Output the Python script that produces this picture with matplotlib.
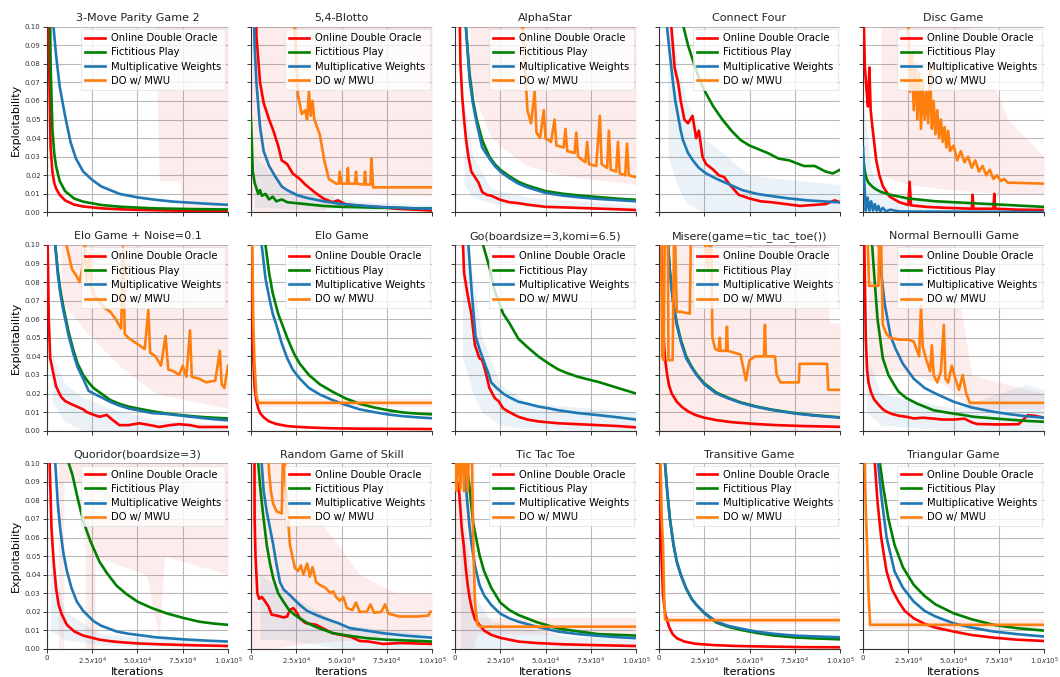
import matplotlib
matplotlib.use("Agg")
import matplotlib.pyplot as plt

# Exploitability values are written in units of 1e-2, iterations in units of 1e3.
# Each curve is a list of (iterations/1000, exploitability*100) points.
Y_UNIT = 0.01
X_UNIT = 1000

# ---------------- 3-Move Parity Game 2 ----------------
P01_ODO = [(0, 30), (0.9, 10), (1, 9), (2, 3.5), (3, 2.2), (4, 1.6), (5, 1.3), (7, 0.95), (10, 0.65),
           (15, 0.42), (20, 0.32), (30, 0.22), (40, 0.17), (50, 0.14), (60, 0.12), (70, 0.1), (80, 0.09),
           (90, 0.08), (100, 0.07)]
P01_FP = [(0, 30), (1.2, 30), (1.8, 10), (2, 8), (3, 4.5), (4, 3.2), (5, 2.5), (7, 1.7), (10, 1.15),
          (15, 0.75), (20, 0.58), (30, 0.4), (40, 0.31), (50, 0.26), (60, 0.22), (70, 0.2), (80, 0.18),
          (90, 0.17), (100, 0.16)]
P01_MW = [(0, 30), (3, 30), (3.6, 10), (5, 8.5), (7, 6.8), (10, 5.2), (13, 3.8), (16, 2.9), (20, 2.2),
          (25, 1.75), (30, 1.4), (40, 1.0), (50, 0.81), (60, 0.68), (70, 0.58), (80, 0.52), (90, 0.46),
          (100, 0.41)]
P01_DOMWU = []
P01_PINK = [(60, 10, 12), (62, 1.7, 12), (73.5, 1.7, 12), (74.5, 0.25, 12), (100, 0.25, 12)]
P01_BLUE = []

# ---------------- 5,4-Blotto ----------------
P02_ODO = [(0, 30), (2, 30), (3, 9.5), (5, 7), (7, 5.9), (10, 5.0), (12, 4.5), (15, 3.6), (17, 2.8),
           (20, 2.6), (23, 2.1), (27, 1.8), (30, 1.5), (35, 1.1), (40, 0.75), (45, 0.55), (48, 0.65),
           (52, 0.45), (60, 0.35), (70, 0.3), (80, 0.2), (90, 0.15), (100, 0.1)]
P02_FP = [(0, 5), (1, 2.2), (2, 1.6), (3, 1.3), (4, 1.0), (5, 1.2), (6, 0.9), (8, 1.0), (10, 0.7),
          (12, 0.85), (14, 0.6), (17, 0.7), (20, 0.55), (25, 0.5), (30, 0.45), (40, 0.35), (50, 0.3),
          (60, 0.28), (70, 0.25), (80, 0.25), (90, 0.22), (100, 0.22)]
P02_MW = [(0, 30), (1, 14), (2, 9), (3, 7), (5, 4.6), (7, 3.3), (10, 2.5), (13, 2.0), (17, 1.4),
          (20, 1.2), (25, 0.95), (30, 0.8), (40, 0.6), (50, 0.45), (60, 0.38), (70, 0.3), (80, 0.26),
          (90, 0.22), (100, 0.2)]
P02_DOMWU = [(22, 12), (24, 10), (26, 6.3), (28, 5.3), (30, 5.5), (31, 5.0), (32, 6.5), (33, 5.2),
             (34, 6.0), (35, 5.0), (38, 4.2), (40.5, 2.8), (43, 1.8), (47, 1.55), (48.5, 1.55), (49, 2.2),
             (50, 1.55), (53, 1.55), (53.5, 2.4), (54, 1.55), (57.5, 1.55), (58, 2.2), (58.5, 1.55),
             (62.5, 1.5), (63, 2.2), (63.5, 1.5), (66, 1.5), (66.5, 2.9), (67.5, 1.35), (100, 1.35)]
P02_PINK = [(0, 0, 12), (40, 0, 12), (47, 1.0, 12), (100, 0.9, 12)]
P02_BLUE = [(2, 0.3, 3), (20, 0.2, 1.2), (60, 0.1, 0.6), (100, 0.1, 0.4)]

# ---------------- AlphaStar ----------------
P03_ODO = [(0, 30), (2, 14), (3, 8), (4, 6.2), (5, 5.0), (6, 4.0), (7.4, 3.0), (9, 2.2), (11, 1.9),
           (13, 1.6), (15, 1.1), (17.5, 0.95), (20, 0.9), (25, 0.68), (30, 0.55), (35, 0.5), (40, 0.42),
           (50, 0.3), (60, 0.27), (75, 0.22), (90, 0.17), (100, 0.13)]
P03_FP = [(0, 30), (4, 30), (6, 10), (8, 7.5), (10, 6.0), (12, 5.0), (15, 3.9), (19, 3.0), (22, 2.6),
          (25, 2.3), (30, 1.95), (35, 1.65), (40, 1.45), (50, 1.15), (60, 1.0), (70, 0.9), (80, 0.82),
          (90, 0.74), (100, 0.68)]
P03_MW = [(0, 30), (4, 30), (6, 10), (8, 7.2), (10, 5.8), (12, 4.8), (15, 3.5), (17, 3.2), (19, 2.9),
          (22, 2.5), (25, 2.2), (30, 1.85), (35, 1.55), (40, 1.35), (50, 1.05), (60, 0.9), (70, 0.8),
          (80, 0.72), (90, 0.66), (100, 0.6)]
P03_DOMWU = [(36, 12), (38, 9), (40, 5.5), (42, 4.8), (44, 6.5), (45, 4.3), (47, 4.0), (49, 5.5),
             (50, 4.0), (53, 3.8), (55, 5.0), (56, 3.6), (60, 3.5), (61, 4.5), (62, 3.3), (66, 3.2),
             (67, 4.3), (68, 3.0), (72, 2.7), (73, 3.8), (74, 2.6), (78, 2.5), (80, 5.2), (81, 2.6),
             (84, 2.4), (85, 4.4), (86, 2.3), (89, 2.2), (90, 3.8), (91, 2.1), (94, 2.0), (95, 3.7),
             (96, 2.0), (100, 1.9)]
P03_PINK = [(8, 7, 12), (20, 4, 12), (26, 3.5, 12), (40, 2.5, 12), (60, 2.0, 12), (100, 1.5, 12)]
P03_BLUE = [(5, 1.5, 6), (10, 0.8, 3), (20, 0.5, 1.3), (40, 0.3, 0.8), (100, 0.1, 0.4)]

# ---------------- Connect Four ----------------
P04_ODO = [(0, 30), (5, 30), (6.8, 10), (8.6, 7.8), (10.5, 7.0), (12, 6.0), (14, 5.0), (16, 4.8),
           (18.5, 5.2), (20.5, 4.0), (22, 4.4), (24, 3.0), (26, 2.6), (30, 2.3), (33, 2.0), (36, 1.9),
           (39, 1.5), (44, 0.95), (50, 0.75), (56, 0.6), (62, 0.55), (70, 0.45), (78, 0.35), (85, 0.4),
           (92, 0.45), (97, 0.65), (100, 0.55)]
P04_FP = [(0, 30), (12, 30), (13.5, 10), (16, 9.0), (20, 7.8), (23, 7.0), (26, 6.4), (30, 5.7),
          (35, 5.0), (40, 4.4), (45, 3.9), (50, 3.6), (55, 3.4), (60, 3.2), (66, 2.9), (72, 2.8),
          (80, 2.5), (86, 2.5), (92, 2.2), (96, 2.1), (100, 2.3)]
P04_MW = [(0, 30), (3, 30), (4.4, 10), (6, 8.5), (7.7, 7.0), (9, 6.0), (10.5, 5.2), (12, 4.4),
          (13.2, 3.9), (16, 3.2), (18.7, 2.8), (22, 2.4), (26, 2.1), (32, 1.8), (39, 1.5), (46, 1.2),
          (54, 1.0), (62, 0.88), (72, 0.75), (82, 0.65), (90, 0.6), (100, 0.54)]
P04_DOMWU = []
P04_PINK = []
P04_BLUE = [(5, 3, 12), (10, 1.5, 8), (15, 0.5, 6), (25, 0, 4), (50, 0, 2.0), (100, 0, 1.5)]

# ---------------- Disc Game ----------------
P05_ODO = [(0, 12), (1, 7.8), (2, 6.5), (2.7, 5.7), (3.5, 7.8), (4.2, 5.5), (5.5, 4.3), (7.3, 2.8),
           (9, 2.0), (11, 1.4), (14.7, 0.85), (20, 0.55), (25, 0.4), (25.7, 1.65), (26.5, 0.38),
           (35, 0.3), (45, 0.25), (60, 0.2), (60.5, 0.95), (61, 0.2), (72, 0.2), (72.5, 1.0), (73, 0.2),
           (85, 0.15), (100, 0.13)]
P05_FP = [(0, 3.0), (1, 2.2), (2, 1.8), (3, 1.6), (5, 1.4), (7, 1.25), (10, 1.1), (15, 0.95), (20, 0.85),
          (25, 0.75), (30, 0.7), (40, 0.6), (50, 0.55), (60, 0.5), (70, 0.45), (80, 0.4), (90, 0.35),
          (100, 0.3)]
P05_MW = [(0, 3.5), (0.8, 1.4), (1.5, 0.1), (2.5, 0.8), (3.5, 0.1), (4.5, 0.6), (5.5, 0.1), (6.5, 0.45),
          (7.5, 0.1), (8.5, 0.35), (9.5, 0.05), (11, 0.25), (12.5, 0.05), (15, 0.15), (20, 0.05),
          (100, 0.02)]
P05_DOMWU = [(25, 10), (26, 6.5), (27, 8.5), (28, 5.5), (29, 8.0), (30, 5.0), (31, 7.5), (32, 4.5),
             (33, 7.0), (34, 5.0), (35, 6.5), (36, 4.8), (37, 7.8), (38, 4.5), (39, 6.0), (40, 4.2),
             (41, 5.5), (42, 4.0), (43, 5.0), (44, 3.8), (45, 4.6), (46, 3.5), (47, 4.4), (48, 3.3),
             (50, 3.6), (52, 2.8), (54, 3.3), (56, 2.7), (58, 3.0), (60, 2.4), (62, 2.8), (64, 2.2),
             (66, 2.5), (68, 2.0), (70, 2.3), (72, 1.8), (74, 2.0), (76, 1.7), (78, 1.8), (80, 1.6),
             (82, 1.6), (100, 1.55)]
P05_PINK = [(10, 2, 12), (25, 1.5, 12), (50, 1.2, 12), (80, 1.0, 5), (100, 1.0, 3.0)]
P05_BLUE = [(0, 0, 6), (5, 0, 2), (15, 0, 0.8), (100, 0, 0.3)]

# ---------------- Elo Game + Noise=0.1 ----------------
P06_ODO = [(0, 30), (0.4, 10), (1, 6), (1.8, 3.9), (3.7, 3.0), (5, 2.4), (6.4, 2.1), (8, 1.8), (10, 1.6),
           (13, 1.45), (16.5, 1.3), (20, 1.15), (22, 1.0), (26, 0.85), (29, 0.75), (33, 0.85), (36, 0.6),
           (40, 0.3), (45, 0.3), (51, 0.4), (57, 0.3), (62, 0.2), (68, 0.3), (73, 0.35), (79, 0.3),
           (84, 0.2), (90, 0.2), (100, 0.2)]
P06_FP = [(0, 30), (4, 30), (4.6, 10), (6, 8.6), (7.5, 7.5), (9.2, 6.6), (12, 5.3), (14.7, 4.3),
          (17, 3.6), (20, 3.0), (23, 2.6), (25.7, 2.3), (30, 2.0), (35, 1.65), (40, 1.45), (45, 1.3),
          (50, 1.2), (58, 1.05), (66, 0.93), (75, 0.83), (84, 0.75), (92, 0.7), (100, 0.66)]
P06_MW = [(0, 30), (4, 30), (4.6, 10), (6, 8.4), (7.5, 7.3), (9.2, 6.4), (12, 5.1), (14.7, 4.1),
          (17, 3.4), (20, 2.8), (23, 2.15), (25.7, 2.0), (30, 1.8), (35, 1.55), (40, 1.35), (45, 1.2),
          (50, 1.1), (58, 0.95), (66, 0.9), (75, 0.8), (84, 0.7), (92, 0.62), (100, 0.56)]
P06_DOMWU = [(10, 12), (11, 9.9), (13.8, 8.7), (16.5, 8.3), (18, 8.0), (20, 9.0), (21, 10), (22, 8.0),
             (23.5, 9.5), (24.5, 7.8), (26, 7.3), (29, 6.9), (32, 6.6), (35, 6.4), (38, 6.0), (41, 5.5),
             (42, 9.9), (43, 5.2), (45, 5.0), (48, 4.8), (51, 4.6), (54, 4.4), (56, 6.5), (57, 4.2),
             (60, 4.0), (63, 3.5), (65.5, 5.1), (67, 3.3), (70, 3.2), (73, 3.0), (75, 3.5), (77, 2.9),
             (79, 5.4), (80, 2.9), (84, 2.8), (88, 2.6), (93, 2.7), (95.5, 4.3), (96.5, 2.5), (98, 2.3),
             (100, 3.5)]
P06_PINK = [(8, 7, 12), (20, 5.5, 12), (40, 3.5, 12), (60, 2.0, 12), (80, 1.6, 12), (100, 1.2, 12)]
P06_BLUE = [(3, 1.5, 4), (10, 0.5, 2.5), (20, 0, 1.8), (35, 0, 1.2), (60, 0, 0.6), (100, 0, 0.3)]

# ---------------- Elo Game ----------------
P07_ODO = [(0, 30), (0.4, 10), (1, 4.5), (2, 2.3), (3, 1.6), (4, 1.2), (5, 0.95), (7, 0.72), (10, 0.5),
           (14, 0.36), (20, 0.25), (25, 0.21), (35, 0.16), (45, 0.13), (60, 0.11), (80, 0.1), (100, 0.09)]
P07_FP = [(0, 30), (7, 30), (8, 10), (10, 8.5), (12, 7.4), (15, 6.3), (17.7, 5.6), (20, 5.0), (24, 4.1),
          (27, 3.6), (32, 3.0), (38, 2.5), (45, 2.1), (52, 1.75), (60, 1.45), (68, 1.25), (76, 1.1),
          (84, 0.98), (92, 0.92), (100, 0.88)]
P07_MW = [(0, 30), (5, 30), (5.9, 10), (8, 8.2), (10, 7.2), (12, 6.3), (14, 5.7), (17, 4.7), (20, 3.9),
          (23, 3.3), (27, 2.8), (32, 2.3), (38, 1.95), (45, 1.65), (52, 1.4), (60, 1.15), (68, 1.0),
          (76, 0.87), (84, 0.78), (92, 0.72), (100, 0.67)]
P07_DOMWU = [(0, 30), (0.5, 12), (1.3, 5.7), (2, 3.5), (3, 1.9), (4, 1.5), (100, 1.5)]
P07_PINK = [(4, 1.3, 1.7), (100, 1.3, 1.7)]
P07_BLUE = []

# ---------------- Go(boardsize=3,komi=6.5) ----------------
P08_ODO = [(0, 30), (4, 30), (4.4, 10), (5, 8.5), (7, 7.3), (9, 6.3), (11, 4.6), (13.5, 3.9), (15, 3.8),
           (16.8, 3.2), (19, 2.3), (22, 1.75), (24, 1.6), (26.6, 1.2), (30, 1.0), (35, 0.75), (40, 0.6),
           (46, 0.5), (57, 0.4), (68, 0.35), (79, 0.3), (90, 0.25), (100, 0.18)]
P08_FP = [(0, 30), (14, 30), (15.5, 10), (19, 8.8), (22, 7.5), (24, 7.0), (26.6, 6.3), (30, 5.8),
          (35, 4.95), (40, 4.5), (46, 4.0), (52, 3.6), (57, 3.3), (62, 3.1), (68, 2.9), (74, 2.75),
          (79, 2.63), (85, 2.45), (90, 2.3), (95, 2.15), (100, 2.0)]
P08_MW = [(0, 30), (7, 30), (7.4, 10), (9.2, 7.5), (11.3, 5.1), (13.5, 4.4), (15, 4.0), (16.8, 3.5),
          (18, 3.2), (20, 2.6), (23, 2.3), (26.6, 2.0), (30, 1.8), (35, 1.56), (40, 1.45), (46, 1.3),
          (52, 1.2), (57, 1.1), (68, 0.95), (79, 0.84), (90, 0.72), (100, 0.6)]
P08_DOMWU = []
P08_PINK = []
P08_BLUE = [(4, 4, 12), (10, 2, 8), (15, 1, 5), (25, 0.3, 2.5), (40, 0.1, 1.5), (100, 0, 1.0)]

# ---------------- Misere(game=tic_tac_toe()) ----------------
P09_ODO = [(0, 30), (1, 30), (1.2, 10), (2, 6.0), (3.3, 3.9), (4.5, 3.0), (5.5, 2.45), (7, 2.0),
           (9.8, 1.56), (13, 1.25), (16.4, 1.02), (20, 0.85), (25, 0.7), (31.7, 0.57), (40, 0.46),
           (53.5, 0.36), (65, 0.3), (80, 0.25), (100, 0.21)]
P09_FP = [(0, 30), (4.5, 30), (5, 10), (6, 8.6), (8, 6.8), (9.8, 5.8), (12, 4.9), (15, 4.0), (18, 3.45),
          (20.7, 3.05), (25, 2.55), (31.7, 2.05), (38, 1.78), (45, 1.53), (53.5, 1.31), (62, 1.14),
          (70, 1.02), (75, 0.95), (85, 0.84), (100, 0.72)]
P09_MW = [(0, 30), (4.5, 30), (5, 10), (6, 8.5), (8, 6.7), (9.8, 5.7), (12, 4.8), (15, 3.9), (18, 3.4),
          (20.7, 3.0), (25, 2.5), (31.7, 2.0), (38, 1.75), (45, 1.5), (53.5, 1.29), (62, 1.12),
          (70, 1.0), (75, 0.93), (85, 0.82), (100, 0.7)]
P09_DOMWU = [(1, 12), (1.8, 4.0), (2.5, 3.8), (3.3, 12), (4.8, 12), (5.2, 3.8), (7.5, 3.8), (8.5, 12),
             (9.8, 6.4), (12, 6.4), (17, 6.3), (17.8, 12), (23, 12), (27, 8.8), (28.5, 12), (29.5, 5.0),
             (31, 4.4), (33, 4.3), (33.5, 5.0), (34, 4.3), (37, 4.3), (37.5, 5.6), (38, 4.3), (45, 4.1),
             (48, 2.7), (50, 3.8), (53, 4.0), (58, 4.0), (58.5, 5.7), (59, 4.0), (64, 4.0), (65, 3.0),
             (67, 2.6), (77.2, 2.6), (77.6, 3.6), (92.8, 3.6), (93.5, 2.2), (100, 2.2)]
P09_PINK = [(0, 0, 12), (93, 0, 12), (94, 0, 5.8), (100, 0, 5.8)]
P09_BLUE = []

# ---------------- Normal Bernoulli Game ----------------
P10_ODO = [(0, 30), (0.7, 10), (1.5, 5.0), (2.2, 3.3), (3, 2.6), (4.3, 2.1), (6, 1.7), (8.7, 1.38),
           (11, 1.15), (13, 1.02), (16, 0.9), (20, 0.8), (24, 0.75), (28, 0.66), (33, 0.7), (39, 0.65),
           (44, 0.6), (50, 0.6), (56, 0.65), (60, 0.45), (63, 0.36), (72, 0.34), (80, 0.34), (86, 0.35),
           (88, 0.55), (91, 0.84), (95, 0.8), (100, 0.7)]
P10_FP = [(0, 30), (4.5, 30), (5, 10), (6, 8.6), (8, 6.0), (10.9, 3.9), (14, 3.0), (17, 2.5), (19.6, 2.1),
          (24, 1.75), (30, 1.45), (39, 1.1), (48, 0.95), (55, 0.85), (61, 0.75), (70, 0.68), (80, 0.6),
          (90, 0.53), (100, 0.48)]
P10_MW = [(0, 30), (8, 30), (8.7, 10), (10, 8.5), (12, 6.8), (15.2, 5.1), (18, 4.4), (22, 3.6), (28, 2.8),
          (34, 2.3), (40, 2.0), (50, 1.56), (60, 1.25), (72, 1.02), (80, 0.9), (90, 0.78), (100, 0.7)]
P10_DOMWU = [(2, 12), (3.3, 7.8), (8.5, 7.8), (9.2, 12), (10, 10), (10.9, 5.7), (13, 5.2), (15.2, 5.0),
             (20, 4.9), (25, 4.9), (28, 4.8), (31, 4.0), (32, 6.7), (33, 4.5), (35, 3.8), (37, 3.2),
             (38, 4.6), (39, 3.0), (41, 2.6), (43, 3.2), (44.6, 5.7), (45.5, 2.8), (47, 2.6), (49, 3.5),
             (51, 2.8), (53, 2.2), (55, 3.0), (57, 2.0), (59, 1.5), (100, 1.5)]
P10_PINK = [(3, 3, 12), (20, 3.2, 12), (45, 2.5, 12), (60, 1.2, 3.0), (100, 1.2, 2.0)]
P10_BLUE = [(2, 1, 4), (10, 0.3, 2), (50, 0, 1.2), (90, 0, 2.5), (100, 0, 2.2)]

# ---------------- Quoridor(boardsize=3) ----------------
P11_ODO = [(0, 30), (1.3, 30), (1.5, 10), (2.5, 6.5), (3.7, 4.7), (5, 3.3), (6.4, 2.4), (8, 1.9),
           (11, 1.3), (15, 0.95), (20, 0.72), (25, 0.6), (29, 0.5), (35, 0.42), (40, 0.37), (50, 0.3),
           (60, 0.26), (70, 0.23), (80, 0.2), (90, 0.18), (100, 0.16)]
P11_FP = [(0, 30), (11, 30), (12, 10), (14, 9.4), (17, 8.1), (20, 6.9), (24, 5.8), (29, 4.7), (33, 4.1),
          (38.5, 3.4), (44, 2.95), (50, 2.55), (58, 2.2), (66, 1.92), (75, 1.68), (84, 1.47), (92, 1.37),
          (100, 1.3)]
P11_MW = [(0, 30), (4.2, 30), (4.6, 10), (6, 7.8), (7.3, 6.5), (9, 5.2), (11, 4.2), (13.5, 3.3),
          (16.5, 2.55), (20, 2.05), (25.7, 1.5), (30, 1.25), (38.5, 0.94), (45, 0.82), (50, 0.76),
          (60, 0.63), (75, 0.52), (88, 0.45), (100, 0.4)]
P11_DOMWU = []
P11_PINK = [(6.4, 0, 12), (9.2, 0, 12), (9.3, 9, 12), (21, 9, 12), (21.1, 0, 12), (26.6, 0, 12),
            (26.7, 5, 12), (40, 4.5, 12), (55, 4.0, 12), (62, 0.5, 12), (65, 5, 12), (100, 4, 12)]
P11_BLUE = [(2, 1, 5), (10, 0.5, 2), (30, 0.2, 0.8), (100, 0.1, 0.3)]

# ---------------- Random Game of Skill ----------------
P12_ODO = [(0, 30), (1.5, 30), (2, 7), (2.5, 5.0), (3.5, 3.0), (4.5, 2.7), (6, 2.8), (7.5, 2.6),
           (9.6, 2.3), (11.4, 1.85), (14, 1.8), (16, 1.75), (18, 1.7), (20, 1.75), (21.5, 2.1),
           (23.4, 2.2), (25, 2.0), (27, 1.65), (30, 1.4), (36, 1.3), (40, 1.1), (45, 0.85), (50, 0.75),
           (55, 0.66), (60, 0.43), (65, 0.4), (73, 0.27), (82, 0.32), (90, 0.3), (100, 0.27)]
P12_FP = [(0, 30), (3.6, 30), (4, 10), (5, 8.8), (6.5, 7.4), (8.7, 5.6), (10.5, 4.6), (12.3, 3.8),
          (15, 3.0), (17.9, 2.55), (21, 2.1), (24, 1.85), (27, 1.65), (32, 1.35), (38, 1.1), (45.5, 0.85),
          (55, 0.7), (64, 0.58), (75, 0.5), (88, 0.45), (100, 0.4)]
P12_MW = [(0, 30), (5.5, 30), (5.9, 10), (7, 8.5), (8.7, 7.4), (10.5, 6.5), (12.3, 5.6), (14, 4.6),
          (16, 3.6), (18, 3.2), (21.5, 2.9), (24, 2.65), (27, 2.37), (31, 2.05), (36, 1.83), (42, 1.6),
          (48, 1.4), (54.7, 1.12), (63, 1.0), (73, 0.85), (85, 0.72), (100, 0.61)]
P12_DOMWU = [(9, 12), (10, 9.5), (11, 8.5), (12.3, 7.8), (14.2, 7.4), (17, 7.3), (18, 12), (19, 9),
             (21.5, 5.6), (24.3, 4.35), (26, 4.2), (27.5, 4.5), (29, 4.0), (31, 4.6), (32.5, 3.9),
             (34, 4.4), (36, 3.6), (38, 3.45), (41, 3.3), (44, 3.0), (45.5, 3.1), (47, 2.8), (49, 2.6),
             (51, 2.8), (53, 2.2), (56, 2.1), (58, 2.5), (60, 2.0), (64, 2.0), (66, 2.4), (68, 1.95),
             (72, 2.0), (74, 2.4), (76, 1.9), (82, 1.75), (86, 1.75), (92, 1.75), (98, 1.8), (99, 2.0),
             (100, 2.0)]
P12_PINK = [(0, 0, 12), (10, 0, 12), (30, 0.3, 8), (60, 0.5, 4), (80, 0.8, 3.0), (100, 0.8, 3.0)]
P12_BLUE = [(5, 0.5, 4), (20, 0.5, 3), (50, 0, 1.3), (100, 0, 0.8)]

# ---------------- Tic Tac Toe ----------------
P13_ODO = [(0, 12), (1, 9.0), (2, 8.8), (3, 7.5), (3.7, 6.5), (4.8, 5.6), (6, 4.3), (7, 3.45), (8, 2.8),
           (9.2, 2.2), (11, 1.6), (13.5, 1.3), (16, 1.0), (20, 0.76), (25, 0.6), (35, 0.4), (45, 0.32),
           (60, 0.25), (80, 0.2), (100, 0.16)]
P13_FP = [(0, 30), (5, 30), (6, 12), (7, 9.5), (8, 8.7), (10, 6.8), (12, 5.8), (13.5, 5.07), (16, 4.2),
          (20, 3.3), (25, 2.5), (30, 2.1), (35, 1.83), (45, 1.45), (57, 1.1), (68, 0.95), (79, 0.8),
          (90, 0.76), (100, 0.72)]
P13_MW = [(0, 30), (5, 30), (5.2, 10), (6.5, 8.2), (8, 6.6), (9.2, 5.6), (11, 4.5), (13.5, 3.45),
          (16, 2.9), (20, 2.37), (25, 1.9), (30, 1.65), (35, 1.47), (45, 1.2), (57, 0.94), (68, 0.8),
          (80, 0.7), (90, 0.63), (100, 0.58)]
P13_DOMWU = [(0, 10), (1, 8.5), (2, 12), (3, 8.6), (4, 12), (5, 8.5), (6, 12), (7, 8.5), (8, 12),
             (9.4, 10), (10, 6.0), (11, 2.5), (12.4, 1.3), (14, 1.2), (100, 1.2)]
P13_PINK = [(0, 0, 12), (10, 0, 12), (12, 0.8, 1.7), (100, 0.8, 1.7)]
P13_BLUE = [(3, 0, 8), (10, 0, 3), (20, 0, 1.5), (60, 0, 0.7), (100, 0, 0.5)]

# ---------------- Transitive Game ----------------
P14_ODO = [(0, 30), (0.4, 10), (1, 6.0), (2.2, 2.9), (3.5, 1.85), (5.5, 1.2), (7.5, 0.8), (9.8, 0.58),
           (14, 0.4), (20, 0.28), (30, 0.21), (42.6, 0.16), (60, 0.13), (80, 0.1), (100, 0.09)]
P14_FP = [(0, 30), (3, 30), (3.3, 10), (4.5, 8.5), (6, 7.0), (8, 5.6), (9.8, 4.7), (12, 4.0), (15, 3.25),
          (18, 2.7), (20.7, 2.37), (25, 1.93), (31.7, 1.42), (38, 1.2), (45, 1.03), (53.5, 0.87),
          (63, 0.73), (75, 0.62), (88, 0.56), (100, 0.52)]
P14_MW = [(0, 30), (3, 30), (3.3, 10), (4.5, 8.5), (6, 7.0), (8, 5.6), (9.8, 4.7), (12, 4.0), (15, 3.25),
          (18, 2.7), (20.7, 2.37), (25, 1.95), (31.7, 1.47), (38, 1.25), (45, 1.1), (53.5, 0.94),
          (63, 0.82), (75, 0.72), (88, 0.67), (100, 0.63)]
P14_DOMWU = [(0, 30), (0.5, 12), (1.5, 7.0), (2.2, 5.6), (2.8, 3.0), (3.3, 1.6), (4, 1.55), (100, 1.55)]
P14_PINK = [(3, 1.35, 1.75), (100, 1.35, 1.75)]
P14_BLUE = []

# ---------------- Triangular Game ----------------
P15_ODO = [(0, 30), (6, 30), (6.5, 10), (8, 7.9), (10, 6.0), (13, 4.17), (16, 3.2), (19.6, 2.55),
           (23, 2.05), (28, 1.65), (34, 1.35), (40, 1.15), (50, 0.94), (60, 0.75), (72, 0.61), (85, 0.5),
           (100, 0.43)]
P15_FP = [(0, 30), (9, 30), (9.3, 10), (11, 8.8), (14, 7.0), (17.4, 5.6), (22, 4.4), (28, 3.45),
          (34, 2.85), (40, 2.4), (50, 1.92), (60, 1.6), (72, 1.3), (85, 1.12), (100, 0.99)]
P15_MW = [(0, 30), (8, 30), (8.3, 10), (10, 8.3), (13, 6.0), (17.4, 4.17), (22, 3.3), (28, 2.55),
          (34, 2.05), (40, 1.75), (50, 1.38), (60, 1.15), (72, 0.94), (85, 0.8), (100, 0.67)]
P15_DOMWU = [(0, 30), (0.5, 12), (1.5, 7.5), (2.2, 5.6), (3, 3.0), (3.9, 1.3), (100, 1.3)]
P15_PINK = [(3, 1.1, 1.6), (100, 1.1, 1.6)]
P15_BLUE = []

TITLES = ["3-Move Parity Game 2", "5,4-Blotto", "AlphaStar", "Connect Four", "Disc Game",
          "Elo Game + Noise=0.1", "Elo Game", "Go(boardsize=3,komi=6.5)", "Misere(game=tic_tac_toe())",
          "Normal Bernoulli Game", "Quoridor(boardsize=3)", "Random Game of Skill", "Tic Tac Toe",
          "Transitive Game", "Triangular Game"]

PANELS = [
    (P01_ODO, P01_FP, P01_MW, P01_DOMWU, P01_PINK, P01_BLUE),
    (P02_ODO, P02_FP, P02_MW, P02_DOMWU, P02_PINK, P02_BLUE),
    (P03_ODO, P03_FP, P03_MW, P03_DOMWU, P03_PINK, P03_BLUE),
    (P04_ODO, P04_FP, P04_MW, P04_DOMWU, P04_PINK, P04_BLUE),
    (P05_ODO, P05_FP, P05_MW, P05_DOMWU, P05_PINK, P05_BLUE),
    (P06_ODO, P06_FP, P06_MW, P06_DOMWU, P06_PINK, P06_BLUE),
    (P07_ODO, P07_FP, P07_MW, P07_DOMWU, P07_PINK, P07_BLUE),
    (P08_ODO, P08_FP, P08_MW, P08_DOMWU, P08_PINK, P08_BLUE),
    (P09_ODO, P09_FP, P09_MW, P09_DOMWU, P09_PINK, P09_BLUE),
    (P10_ODO, P10_FP, P10_MW, P10_DOMWU, P10_PINK, P10_BLUE),
    (P11_ODO, P11_FP, P11_MW, P11_DOMWU, P11_PINK, P11_BLUE),
    (P12_ODO, P12_FP, P12_MW, P12_DOMWU, P12_PINK, P12_BLUE),
    (P13_ODO, P13_FP, P13_MW, P13_DOMWU, P13_PINK, P13_BLUE),
    (P14_ODO, P14_FP, P14_MW, P14_DOMWU, P14_PINK, P14_BLUE),
    (P15_ODO, P15_FP, P15_MW, P15_DOMWU, P15_PINK, P15_BLUE),
]

SERIES = ["Online Double Oracle", "Fictitious Play", "Multiplicative Weights", "DO w/ MWU"]
COLORS = ["#ff0000", "#008000", "#1f77b4", "#ff7f0e"]

XTICKS = [0, 25000, 50000, 75000, 100000]
XTICKLABELS = ["0", r"$2.5x10^4$", r"$5.0x10^4$", r"$7.5x10^4$", r"$1.0x10^5$"]
YTICKS = [0.00, 0.01, 0.02, 0.03, 0.04, 0.05, 0.06, 0.07, 0.08, 0.09, 0.10]


def unpack(points):
    xs = [p[0] * X_UNIT for p in points]
    ys = [p[1] * Y_UNIT for p in points]
    return xs, ys


def shade(ax, band, color, alpha):
    if not band:
        return
    xs = [b[0] * X_UNIT for b in band]
    lo = [b[1] * Y_UNIT for b in band]
    hi = [b[2] * Y_UNIT for b in band]
    ax.fill_between(xs, lo, hi, color=color, alpha=alpha, linewidth=0, zorder=1)


fig, axes = plt.subplots(3, 5, figsize=(10.6, 6.77), dpi=100)
fig.subplots_adjust(left=0.0443, right=0.985, bottom=0.0414, top=0.9606, wspace=0.127, hspace=0.175)

for i, (ax, title, panel) in enumerate(zip(axes.flat, TITLES, PANELS)):
    curves, pink, blue = panel[:4], panel[4], panel[5]
    shade(ax, pink, "#e84545", 0.10)
    shade(ax, blue, "#1f77b4", 0.09)
    for name, color, pts in zip(SERIES, COLORS, curves):
        xs, ys = unpack(pts)
        ax.plot(xs, ys, color=color, lw=1.9, label=name, zorder=3)

    ax.set_xlim(0, 100000)
    ax.set_ylim(0, 0.10)
    ax.set_title(title, fontsize=8, pad=4, color="#222222")
    ax.set_xticks(XTICKS)
    ax.set_yticks(YTICKS)
    ax.grid(True, color="#b8b8b8", linewidth=0.8, zorder=0)
    ax.set_axisbelow(True)
    for side in ("top", "right"):
        ax.spines[side].set_visible(False)
    for side in ("left", "bottom"):
        ax.spines[side].set_color("#333333")
        ax.spines[side].set_linewidth(0.8)
    ax.tick_params(axis="both", length=3, width=0.7, labelsize=5, colors="#333333", pad=1.5)

    row, col = divmod(i, 5)
    if col == 0:
        ax.set_yticklabels([f"{v:.2f}" for v in YTICKS])
        ax.set_ylabel("Exploitability", fontsize=8, labelpad=3)
    else:
        ax.set_yticklabels([])
    if row == 2:
        ax.set_xticklabels(XTICKLABELS)
        ax.set_xlabel("Iterations", fontsize=8, labelpad=0)
    else:
        ax.set_xticklabels([])

    leg = ax.legend(loc="upper right", fontsize=7.2, handlelength=2.0, handletextpad=0.6,
                    borderpad=0.4, labelspacing=0.42, borderaxespad=0.25, framealpha=0.8,
                    fancybox=False)
    leg.get_frame().set_edgecolor("#dddddd")
    leg.get_frame().set_linewidth(0.6)
    leg.set_zorder(5)

fig.savefig("out.png", dpi=100)
